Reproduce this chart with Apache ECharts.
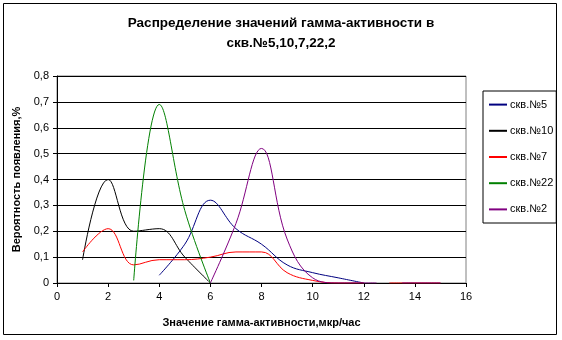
<!DOCTYPE html>
<html>
<head>
<meta charset="utf-8">
<script src="https://cdn.jsdelivr.net/npm/echarts@6/dist/echarts.min.js"></script>
<style>
  html, body { margin: 0; padding: 0; background: #fff; }
  #main { width: 562px; height: 340px; }
</style>
</head>
<body>
<div id="main"></div>
<script>
// названия скважин (легенда)
var wellNames = ['скв.№5', 'скв.№10', 'скв.№7', 'скв.№22', 'скв.№2'];
var wellColors = ['#000080', '#000000', '#ff0000', '#008000', '#800080'];

// x - значение гамма-активности, y - вероятность (null = разрыв линии)
var x5 = [4, 5, 6, 7, 8, 9, 10, 11, 12];
var y5 = [0.03, 0.15, 0.32, 0.21, 0.15, 0.07, 0.04, 0.02, 0];

var x10 = [1, 2, 3, 4, 5, 6];
var y10 = [0.09, 0.4, 0.2, 0.21, 0.1, 0];

var x7 = [1, 2, 3, 4, 5, 6, 7, 8, 9, 10, 11, 12, 12.75, 13, 14, 15];
var y7 = [0.12, 0.21, 0.07, 0.09, 0.09, 0.1, 0.12, 0.12, 0.04, 0.01, 0, 0, null, 0, 0, 0];

var x22 = [3, 4, 5, 6];
var y22 = [0.01, 0.69, 0.28, 0];

var x2 = [6, 7, 8, 9, 10, 11, 12.5, 13, 13.5, 15];
var y2 = [0, 0.23, 0.52, 0.17, 0.02, 0, 0, null, 0, 0];

var xTicks = { min: 0, max: 16, interval: 2 };
var yTicks = { min: 0, max: 0.8, interval: 0.1 };

var titleLines = ['Распределение значений гамма-активности в', 'скв.№5,10,7,22,2'];

function pairs(xs, ys) {
    return xs.map(function (x, i) {
        return ys[i] === null ? [x, '-'] : [x, ys[i]];
    });
}

var allX = [x5, x10, x7, x22, x2];
var allY = [y5, y10, y7, y22, y2];

var font = 'Liberation Sans, Arial, sans-serif';

var chart = echarts.init(document.getElementById('main'));

var series = wellNames.map(function (name, i) {
    return {
        name: name,
        type: 'line',
        data: pairs(allX[i], allY[i]),
        smooth: 0.4,
        symbol: 'none',
        connectNulls: false,
        lineStyle: { color: wellColors[i], width: 1 },
        itemStyle: { color: wellColors[i] }
    };
});

var titles = titleLines.map(function (t, i) {
    return {
        text: t,
        left: 'center',
        top: 16 + i * 20,
        padding: 0,
        textStyle: {
            fontFamily: font,
            fontSize: 13.5,
            fontWeight: 'bold',
            color: '#000'
        }
    };
});

var option = {
    animation: false,
    backgroundColor: '#fff',
    title: titles,
    legend: {
        orient: 'vertical',
        left: 483,
        top: 91,
        itemWidth: 18,
        itemHeight: 14,
        itemGap: 15,
        padding: [8, 3, 8, 5],
        borderColor: '#000',
        borderWidth: 1,
        borderRadius: 0,
        data: wellNames,
        itemStyle: { color: 'rgba(0,0,0,0)', borderWidth: 0 },
        textStyle: { fontFamily: font, fontSize: 11, color: '#000', padding: [0, 0, 0, -2] }
    },
    grid: {
        left: 57,
        top: 76,
        right: 96,
        bottom: 57,
        show: true,
        borderColor: '#808080',
        borderWidth: 1,
        backgroundColor: '#fff'
    },
    xAxis: {
        type: 'value',
        min: xTicks.min,
        max: xTicks.max,
        interval: xTicks.interval,
        name: 'Значение гамма-активности,мкр/час',
        nameLocation: 'middle',
        nameGap: 34,
        nameTextStyle: { fontFamily: font, fontSize: 11, fontWeight: 'bold', color: '#000' },
        axisLine: { lineStyle: { color: '#000', width: 1 } },
        axisTick: { show: true, length: 4, lineStyle: { color: '#000' } },
        axisLabel: { fontFamily: font, fontSize: 11, color: '#000', margin: 8 },
        splitLine: { show: false }
    },
    yAxis: {
        type: 'value',
        min: yTicks.min,
        max: yTicks.max,
        interval: yTicks.interval,
        name: 'Вероятность появления,%',
        nameLocation: 'middle',
        nameGap: 25,
        nameRotate: 90,
        nameTextStyle: { fontFamily: font, fontSize: 11, fontWeight: 'bold', color: '#000' },
        axisLine: { show: true, lineStyle: { color: '#000', width: 1 } },
        axisTick: { show: true, length: 4, lineStyle: { color: '#000' } },
        axisLabel: {
            fontFamily: font,
            fontSize: 11,
            color: '#000',
            margin: 8,
            formatter: function (v) {
                return String(Math.round(v * 10) / 10).replace('.', ',');
            }
        },
        splitLine: { show: true, lineStyle: { color: '#000', width: 1 } }
    },
    graphic: [{
        type: 'rect',
        shape: { x: 3.5, y: 3.5, width: 553, height: 331 },
        style: { fill: null, stroke: '#000', lineWidth: 1 },
        silent: true,
        z: 100
    }],
    series: series
};

chart.setOption(option);
</script>
</body>
</html>
